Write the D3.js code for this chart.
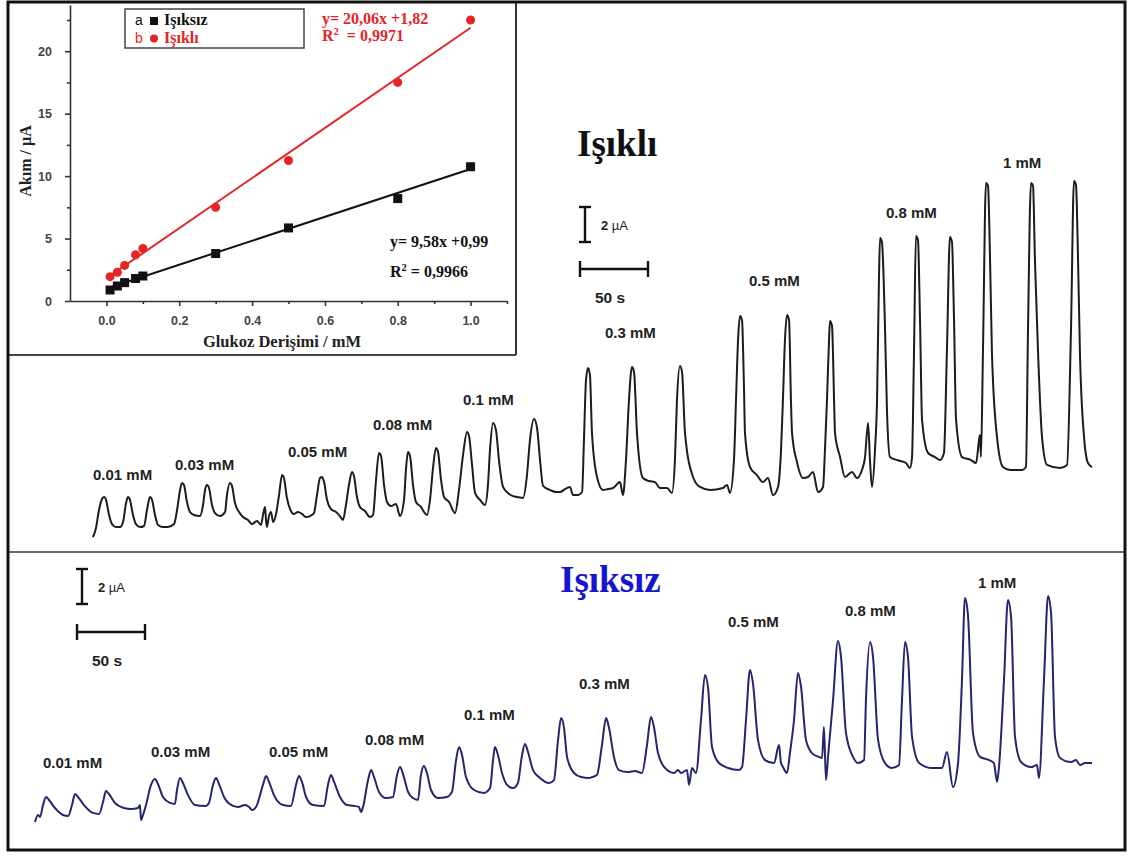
<!DOCTYPE html>
<html>
<head>
<meta charset="utf-8">
<script src="https://cdn.jsdelivr.net/npm/d3@7/dist/d3.min.js"></script>
<style>
  body { margin: 0; background: #fff; }
  svg { display: block; }
</style>
</head>
<body>
<script>
// ---------------- DATA ----------------
// Calibration inset: glucose concentration (mM) vs current (µA)
const concentrations = [0.01, 0.03, 0.05, 0.08, 0.1, 0.3, 0.5, 0.8, 1.0];
const darkCurrent  = [0.88, 1.2, 1.47, 1.8, 2.0, 3.8, 5.85, 8.2, 10.75];   // Işıksız
const lightCurrent = [1.95, 2.3, 2.85, 3.7, 4.2, 7.5, 11.25, 17.5, 22.5];  // Işıklı
const darkFit  = [9.58, 0.99];   // slope, intercept
const lightFit = [20.06, 1.82];
const insetXTicks = [0, 0.2, 0.4, 0.6, 0.8, 1.0];
const insetXMinor = [0.1, 0.3, 0.5, 0.7, 0.9, 1.1];
const insetYTicks = [0, 5, 10, 15, 20];
const insetYMinor = [2.5, 7.5, 12.5, 17.5, 22.5];
const concLabels = ["0.01 mM", "0.03 mM", "0.05 mM", "0.08 mM", "0.1 mM", "0.3 mM", "0.5 mM", "0.8 mM", "1 mM"];

// Amperometric trace under light: [time (s), current (µA)]
const lightTrace = [
[0,0.17],[2.2,0.69],[4.4,1.71],[6.6,2.34],[8.1,2.46],[9.6,2.29],[11.8,1.43],[14.0,0.91],[16.9,0.74],[19.9,0.74],
[22.1,1.03],[24.3,2.11],[25.7,2.46],[27.2,2.29],[29.4,1.43],[31.6,0.91],[34.6,0.74],[37.5,0.80],[39.7,1.71],[41.9,2.46],
[43.4,2.29],[45.6,1.43],[47.8,0.86],[51.5,0.74],[55.1,0.74],[59.6,0.91],[61.8,1.71],[64.0,2.86],[65.4,3.26],[66.9,3.14],
[69.1,2.17],[71.3,1.60],[74.3,1.43],[78.7,1.37],[80.9,2.00],[82.4,2.86],[83.8,3.14],[85.3,2.97],[87.5,2.00],[89.7,1.54],
[93.4,1.37],[97.1,1.60],[98.5,2.57],[100.7,3.26],[102.2,3.09],[104.4,2.11],[107.4,1.60],[110.3,1.31],[114.0,1.14],[116.9,0.91],
[120.6,1.09],[123.5,0.86],[125.0,1.43],[126.5,1.89],[127.2,1.14],[127.9,0.74],[129.4,1.37],[130.9,1.60],[132.4,1.03],[134.6,1.49],
[136.8,2.57],[139.0,3.71],[140.4,3.54],[142.6,2.40],[144.9,1.77],[147.8,1.49],[150.7,1.60],[153.7,1.49],[156.6,1.31],[159.6,1.37],
[162.5,1.54],[164.7,2.57],[166.9,3.54],[168.4,3.60],[169.9,3.31],[172.1,2.29],[175.0,1.77],[178.7,1.60],[181.6,1.37],[183.8,1.14],
[186.0,2.00],[188.2,3.14],[190.4,3.89],[191.9,3.66],[194.1,2.46],[196.3,1.89],[200.0,1.66],[203.7,1.31],[205.9,1.43],[208.1,3.43],
[210.3,4.97],[211.8,4.80],[214.0,3.14],[216.2,2.17],[219.1,1.94],[222.8,2.06],[225.7,1.37],[228.7,2.29],[230.1,4.00],[231.6,5.03],
[233.1,4.80],[235.3,3.14],[237.5,2.17],[241.2,1.89],[243.4,1.60],[245.6,1.43],[247.8,2.29],[250.0,4.11],[252.2,5.26],[253.7,5.03],
[255.9,3.43],[258.1,2.46],[261.8,2.17],[266.2,1.54],[269.1,2.86],[272.1,4.86],[275.0,6.17],[276.5,5.94],[278.7,4.29],[280.9,2.69],
[284.6,2.29],[288.2,2.00],[290.4,3.14],[291.9,5.14],[294.1,6.69],[296.3,6.29],[298.5,4.57],[301.5,3.03],[305.1,2.69],[308.8,2.51],
[311.8,2.46],[316.2,2.40],[319.1,3.71],[321.3,5.71],[324.3,6.91],[326.5,6.40],[328.7,4.57],[330.9,3.09],[336.0,2.86],[340.4,2.74],
[343.4,2.74],[347.1,2.91],[350.7,3.03],[352.9,2.57],[356.6,2.57],[359.6,2.74],[361.0,5.71],[362.5,9.14],[364.0,9.83],[365.4,9.43],
[366.9,6.11],[370.6,3.60],[375.0,2.86],[378.7,2.91],[382.4,2.97],[387.5,3.31],[389.7,2.57],[391.9,4.57],[394.1,8.00],[396.3,9.89],
[397.8,9.60],[400.0,6.11],[404.4,3.54],[408.8,3.37],[413.2,3.31],[416.9,2.97],[422.1,2.97],[425.7,2.69],[427.9,4.57],[429.4,8.00],
[431.6,9.94],[433.1,9.60],[435.3,6.11],[441.2,3.60],[446.3,3.03],[453.7,2.86],[463.2,2.97],[466.2,3.14],[468.4,2.69],[471.3,4.57],
[472.8,8.00],[474.3,11.43],[475.7,12.80],[477.2,12.57],[478.7,8.57],[479.4,6.11],[483.1,4.17],[488.2,3.71],[492.6,3.31],[496.3,3.54],
[500.0,2.57],[503.7,3.03],[505.9,5.14],[507.3,8.00],[508.8,11.43],[510.3,12.86],[511.8,12.57],[513.2,8.00],[514.0,6.11],[517.6,4.46],
[522.1,3.54],[525.7,3.60],[529.4,3.89],[533.1,2.74],[536.8,3.03],[538.2,5.14],[539.7,8.00],[541.2,11.43],[541.9,12.51],[543.4,12.23],
[544.9,8.00],[545.6,6.11],[549.3,4.74],[552.9,3.60],[558.1,3.89],[561.8,3.54],[565.4,4.00],[567.6,4.69],[569.9,6.69],[571.3,4.57],
[572.8,3.03],[575.0,5.14],[576.5,8.00],[577.9,14.86],[578.7,17.26],[580.1,17.03],[582.4,12.00],[583.8,7.43],[586.0,4.74],[591.2,4.57],
[597.8,4.40],[600.7,4.11],[602.2,4.69],[603.7,10.86],[605.1,17.37],[606.6,17.14],[608.1,12.57],[609.6,6.86],[614.0,4.97],[619.1,4.74],
[622.8,4.57],[625.7,4.97],[627.9,10.86],[630.1,17.31],[631.6,17.03],[633.1,12.57],[634.6,6.86],[639.0,4.74],[645.6,4.57],[649.3,4.40],
[651.5,5.71],[652.2,6.00],[652.9,4.74],[654.4,10.86],[656.6,20.40],[658.1,20.23],[659.6,16.00],[661.0,10.69],[664.7,5.89],[669.1,4.17],
[674.3,4.00],[683.1,4.00],[686.0,4.17],[687.5,12.00],[689.7,20.40],[691.2,20.23],[692.6,16.00],[694.9,10.69],[697.8,5.89],[701.5,4.29],
[711.0,4.11],[716.2,4.29],[719.1,12.00],[721.3,20.51],[722.8,20.29],[724.3,16.00],[725.7,10.69],[728.7,5.89],[731.6,4.40],[734.6,4.17]
];

// Amperometric trace in the dark: [time (s), current (µA)]
const darkTrace = [
[0,0.17],[2.2,0.57],[3.7,0.46],[5.9,1.14],[8.1,1.60],[10.3,1.43],[14.0,1.03],[20.6,0.57],[24.3,0.51],[27.2,1.14],
[29.4,1.77],[31.6,1.60],[36.0,1.14],[42.6,0.69],[47.1,0.63],[50.0,1.31],[52.2,1.94],[54.4,1.77],[58.8,1.26],[65.4,0.97],
[70.6,0.91],[75.7,0.97],[77.2,1.14],[77.9,0.29],[79.4,0.57],[81.6,1.14],[85.3,2.29],[88.2,2.63],[90.4,2.34],[94.1,1.60],
[99.3,1.26],[102.9,1.20],[104.4,2.00],[106.6,2.69],[108.8,2.40],[112.5,1.71],[117.6,1.14],[125.7,1.09],[127.9,1.26],[130.9,2.29],
[133.1,2.69],[135.3,2.34],[139.0,1.60],[145.6,1.09],[149.3,1.03],[154.4,1.14],[157.4,1.03],[159.6,0.86],[162.5,1.03],[167.6,2.29],
[169.9,2.80],[172.1,2.46],[175.7,1.71],[182.4,1.14],[188.2,1.09],[191.9,2.29],[194.1,2.80],[196.3,2.46],[199.3,1.60],[204.4,1.14],
[212.5,1.09],[215.4,2.29],[217.6,2.86],[219.9,2.46],[224.3,1.60],[229.4,1.14],[234.6,1.09],[238.2,1.03],[239.7,0.74],[241.2,1.03],
[244.9,2.57],[247.1,3.14],[249.3,2.74],[252.9,1.89],[258.1,1.54],[263.2,1.60],[266.2,2.86],[268.4,3.31],[270.6,2.91],[274.3,1.89],
[277.9,1.54],[281.6,1.43],[283.8,2.86],[286.0,3.37],[288.2,2.97],[291.2,2.00],[296.3,1.54],[302.9,1.60],[306.6,1.89],[309.6,3.71],
[311.8,4.46],[314.0,4.00],[316.9,2.74],[322.8,2.00],[330.1,1.83],[334.6,2.11],[336.8,3.71],[338.2,4.46],[340.4,4.00],[343.4,2.97],
[347.1,2.29],[351.5,2.11],[355.1,2.40],[357.9,3.89],[360.3,4.63],[362.5,4.17],[366.2,3.14],[371.3,2.69],[377.9,2.40],[381.6,2.57],
[384.6,4.86],[386.8,6.11],[389.0,5.54],[391.2,3.89],[396.3,2.97],[401.5,2.74],[407.4,2.69],[409.6,2.74],[413.2,2.86],[416.9,4.57],
[419.9,6.11],[422.1,5.54],[425.7,3.89],[429.4,3.14],[436.0,3.03],[441.2,3.09],[446.3,2.97],[450.0,4.57],[452.9,6.17],[455.1,5.60],
[458.1,4.11],[463.2,3.26],[469.9,2.97],[472.8,3.14],[475.0,2.97],[479.4,3.14],[480.9,2.29],[483.1,3.26],[486.0,2.97],[489.7,6.00],
[492.6,8.57],[494.9,7.83],[497.8,4.46],[502.9,3.54],[509.6,3.26],[517.6,3.14],[519.9,3.31],[522.8,6.00],[525.7,8.86],[527.9,8.11],
[531.6,4.86],[536.8,3.71],[543.4,3.54],[547.1,4.57],[548.5,3.54],[550.0,3.31],[552.9,2.97],[555.1,4.11],[558.1,6.00],[561.0,8.69],
[563.2,7.94],[566.9,4.86],[571.3,4.11],[576.5,3.89],[578.7,3.83],[580.1,5.60],[581.6,2.57],[583.1,3.89],[586.8,7.14],[590.4,10.51],
[592.6,9.66],[596.3,5.26],[601.5,3.89],[605.1,3.54],[609.6,3.71],[611.0,7.14],[614.0,10.46],[616.2,9.60],[619.9,4.86],[625.0,3.54],
[630.1,3.26],[635.3,3.43],[637.5,7.14],[639.7,10.46],[641.9,9.60],[644.9,5.03],[650.1,3.54],[658.9,3.26],[666.9,3.26],[670.6,4.17],
[675.0,2.17],[678.7,3.54],[681.6,8.29],[683.8,12.97],[686.0,12.00],[689.7,5.26],[694.9,3.89],[701.5,3.71],[705.1,3.54],[707.4,2.46],
[708.8,3.31],[712.5,8.29],[715.4,12.86],[717.7,11.89],[720.6,5.03],[725.0,3.60],[732.4,3.31],[736.8,3.43],[738.2,2.69],[741.9,8.29],
[744.9,13.09],[747.1,12.11],[750.0,5.03],[753.7,3.83],[761.8,3.60],[765.4,3.71],[768.4,3.43],[772.1,3.54],[777.2,3.54]
];

const scaleBarTime = 50;     // s
const scaleBarCurrent = 2;   // µA

// ---------------- DRAWING ----------------
const W = 1130, H = 856;
const SANS = "'Liberation Sans', Arial, Helvetica, sans-serif";
const SERIF = "'Liberation Serif', 'Times New Roman', Times, serif";
const RED = "#e42426";

const svg = d3.select("body").append("svg").attr("width", W).attr("height", H);
svg.append("rect").attr("width", W).attr("height", H).attr("fill", "#fff");

// ---- Inset calibration plot ----
const ix = d3.scaleLinear().domain([-0.1, 1.1]).range([70, 507]);
const iy = d3.scaleLinear().domain([0, 23.7]).range([301, 5]);
const inset = svg.append("g");

const xAxis = d3.axisBottom(ix).tickValues(insetXTicks).tickSize(5).tickSizeOuter(0)
  .tickFormat(d3.format(".1f"));
const gx = inset.append("g").attr("transform", `translate(0,${iy(0)})`).call(xAxis);
inset.append("g").attr("transform", `translate(0,${iy(0)})`)
  .call(d3.axisBottom(ix).tickValues(insetXMinor).tickSize(3).tickSizeOuter(0).tickFormat(""))
  .select(".domain").remove();
const yAxis = d3.axisLeft(iy).tickValues(insetYTicks).tickSize(5).tickSizeOuter(0);
const gy = inset.append("g").attr("transform", `translate(${ix(-0.1)},0)`).call(yAxis);
inset.append("g").attr("transform", `translate(${ix(-0.1)},0)`)
  .call(d3.axisLeft(iy).tickValues(insetYMinor).tickSize(3).tickSizeOuter(0).tickFormat(""))
  .select(".domain").remove();
inset.selectAll(".domain, .tick line").attr("stroke", "#333").attr("stroke-width", 1.6);
gx.selectAll(".tick text").attr("font-family", SANS).attr("font-weight", "bold")
  .attr("font-size", 12.5).attr("fill", "#444").attr("dy", "1.25em");
gy.selectAll(".tick text").attr("font-family", SANS).attr("font-weight", "bold")
  .attr("font-size", 12.5).attr("fill", "#444").attr("dx", "-0.8em");

inset.append("text").attr("x", 282).attr("y", 347).attr("text-anchor", "middle")
  .attr("font-family", SERIF).attr("font-weight", "bold").attr("font-size", 16.5).attr("fill", "#222")
  .text("Glukoz Derişimi / mM");
inset.append("text").attr("transform", "translate(31,161) rotate(-90)").attr("text-anchor", "middle")
  .attr("font-family", SERIF).attr("font-weight", "bold").attr("font-size", 16).attr("fill", "#222")
  .text("Akım / µA");

// fit lines
const fitRange = [concentrations[0], concentrations[concentrations.length - 1]];
const fitLine = d3.line().x(d => ix(d[0])).y(d => iy(d[1]));
inset.append("path").attr("d", fitLine(fitRange.map(c => [c, lightFit[0] * c + lightFit[1]])))
  .attr("stroke", RED).attr("stroke-width", 2).attr("fill", "none");
inset.append("path").attr("d", fitLine(fitRange.map(c => [c, darkFit[0] * c + darkFit[1]])))
  .attr("stroke", "#111").attr("stroke-width", 2).attr("fill", "none");

// points
inset.selectAll("rect.pt").data(concentrations).join("rect").attr("class", "pt")
  .attr("x", (d, i) => ix(d) - 4.5).attr("y", (d, i) => iy(darkCurrent[i]) - 4.5)
  .attr("width", 9).attr("height", 9).attr("fill", "#111");
inset.selectAll("circle.pt").data(concentrations).join("circle").attr("class", "pt")
  .attr("cx", d => ix(d)).attr("cy", (d, i) => iy(lightCurrent[i])).attr("r", 4.5).attr("fill", RED);

// legend
const lg = inset.append("g");
lg.append("rect").attr("x", 125).attr("y", 9).attr("width", 179).attr("height", 39)
  .attr("fill", "#fff").attr("stroke", "#444").attr("stroke-width", 1.5);
lg.append("text").attr("x", 135).attr("y", 25).attr("font-family", SANS).attr("font-size", 14).attr("fill", "#111").text("a");
lg.append("rect").attr("x", 150).attr("y", 17).attr("width", 8).attr("height", 8).attr("fill", "#111");
lg.append("text").attr("x", 164).attr("y", 25).attr("font-family", SERIF).attr("font-weight", "bold")
  .attr("font-size", 16).attr("fill", "#111").text("Işıksız");
lg.append("text").attr("x", 135).attr("y", 43).attr("font-family", SANS).attr("font-size", 14).attr("fill", RED).text("b");
lg.append("circle").attr("cx", 154).attr("cy", 38.5).attr("r", 4).attr("fill", RED);
lg.append("text").attr("x", 164).attr("y", 43).attr("font-family", SERIF).attr("font-weight", "bold")
  .attr("font-size", 16).attr("fill", RED).text("Işıklı");

// equations
function eq(g, x, y1, y2, fit, r2, color) {
  const f = d3.format(".2f");
  const c = v => f(v).replace(".", ",");
  g.append("text").attr("x", x).attr("y", y1).attr("font-family", SERIF).attr("font-weight", "bold")
    .attr("font-size", 16).attr("fill", color).text(`y= ${c(fit[0])}x +${c(fit[1])}`);
  const t = g.append("text").attr("x", x).attr("y", y2).attr("font-family", SERIF).attr("font-weight", "bold")
    .attr("font-size", 16).attr("fill", color).attr("xml:space", "preserve");
  t.append("tspan").text("R");
  t.append("tspan").attr("font-size", 10.5).attr("dy", -6).text("2");
  t.append("tspan").attr("dy", 6).text(r2);
}
eq(inset, 322, 24, 41, lightFit, "  = 0,9971", RED);
eq(inset, 390, 247, 277, darkFit, " = 0,9966", "#111");

// ---- Traces ----
function tracePanel(data, originX, originY, color, labels, labelPos, barX, barY, hBarY) {
  const x = d3.scaleLinear().domain([0, scaleBarTime]).range([originX, originX + 68]);
  const y = d3.scaleLinear().domain([0, scaleBarCurrent]).range([originY, originY - 35]);
  const line = d3.line().x(d => x(d[0])).y(d => y(d[1])).curve(d3.curveMonotoneX);
  svg.append("path").attr("d", line(data)).attr("fill", "none").attr("stroke", color)
    .attr("stroke-width", 2).attr("stroke-linejoin", "round");
  svg.selectAll(null).data(labels).join("text")
    .attr("x", (d, i) => labelPos[i][0]).attr("y", (d, i) => labelPos[i][1])
    .attr("font-family", SANS).attr("font-weight", "bold").attr("font-size", 15).attr("fill", "#222")
    .text(d => d);
  // scale bars
  const vLen = y(0) - y(scaleBarCurrent);
  const hLen = x(scaleBarTime) - x(0);
  const sb = svg.append("g").attr("stroke", "#111").attr("stroke-width", 2.4);
  sb.append("line").attr("x1", barX).attr("x2", barX).attr("y1", barY).attr("y2", barY + vLen);
  sb.append("line").attr("x1", barX - 6).attr("x2", barX + 6).attr("y1", barY).attr("y2", barY);
  sb.append("line").attr("x1", barX - 6).attr("x2", barX + 6).attr("y1", barY + vLen).attr("y2", barY + vLen);
  const hx = barX - 5;
  sb.append("line").attr("x1", hx).attr("x2", hx + hLen).attr("y1", hBarY).attr("y2", hBarY);
  sb.append("line").attr("x1", hx).attr("x2", hx).attr("y1", hBarY - 8).attr("y2", hBarY + 8);
  sb.append("line").attr("x1", hx + hLen).attr("x2", hx + hLen).attr("y1", hBarY - 8).attr("y2", hBarY + 8);
  const ct = svg.append("text").attr("x", barX + 16).attr("y", barY + vLen / 2 + 5)
    .attr("font-family", SANS).attr("font-size", 13).attr("fill", "#222");
  ct.append("tspan").attr("font-weight", "bold").text(scaleBarCurrent + " ");
  ct.append("tspan").text("µA");
  svg.append("text").attr("x", hx + 15).attr("y", hBarY + 34)
    .attr("font-family", SANS).attr("font-weight", "bold").attr("font-size", 15.5).attr("fill", "#222")
    .text(scaleBarTime + " s");
}

tracePanel(lightTrace, 93, 540, "#1c1c1c", concLabels,
  [[93,480],[175,470],[288,457],[373,430],[463,405],[605,338],[749,286],[886,218],[1003,168]],
  585, 207, 269);
tracePanel(darkTrace, 35, 825, "#25256e", concLabels,
  [[43,768],[151,757],[269,757],[365,745],[464,720],[579,689],[728,627],[845,616],[978,588]],
  82, 569, 632);

// titles
svg.append("text").attr("x", 577).attr("y", 156).attr("font-family", SERIF).attr("font-weight", "bold")
  .attr("font-size", 37).attr("fill", "#111").text("Işıklı");
svg.append("text").attr("x", 560).attr("y", 592).attr("font-family", SERIF).attr("font-weight", "bold")
  .attr("font-size", 37).attr("fill", "#1414d2").text("Işıksız");

// frames
const fr = svg.append("g").attr("fill", "none");
fr.append("line").attr("x1", 8).attr("x2", 1125).attr("y1", 552).attr("y2", 552).attr("stroke", "#666").attr("stroke-width", 2);
fr.append("line").attr("x1", 8).attr("x2", 516).attr("y1", 355).attr("y2", 355).attr("stroke", "#444").attr("stroke-width", 2);
fr.append("line").attr("x1", 516).attr("x2", 516).attr("y1", 2).attr("y2", 355).attr("stroke", "#333").attr("stroke-width", 2);
fr.append("rect").attr("x", 8).attr("y", 2).attr("width", 1117).attr("height", 848)
  .attr("stroke", "#111").attr("stroke-width", 3);
</script>
</body>
</html>
